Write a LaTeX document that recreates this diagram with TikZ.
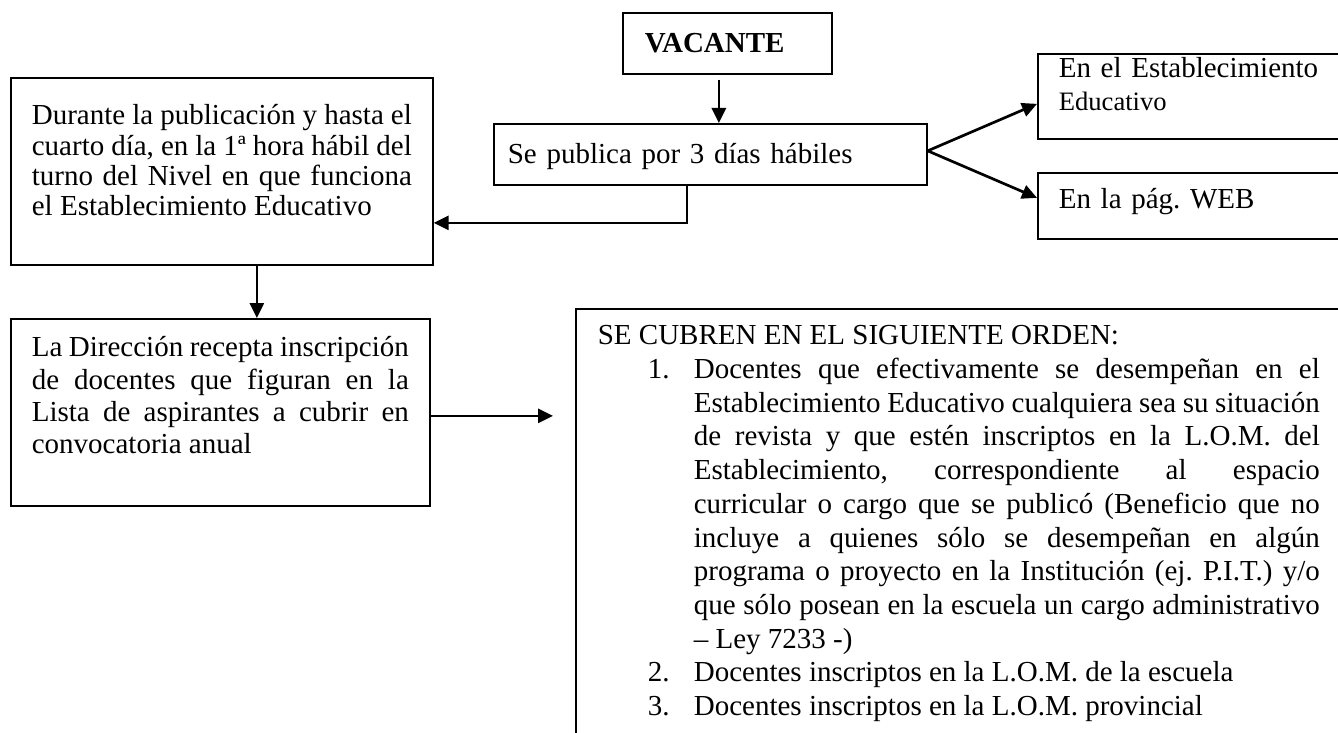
\documentclass[tikz,border=0pt]{standalone}
\usepackage{fontspec}
\setmainfont{Liberation Serif}
\usepackage{tikz}
\usetikzlibrary{arrows.meta}
\frenchspacing

\begin{document}
\begin{tikzpicture}[x=0.5pt,y=-0.5pt]
  \tikzstyle{caja}=[draw=black, line width=0.85pt, anchor=north west, inner ysep=0pt,
                    font=\fontsize{14.5pt}{16.5pt}\selectfont]
  \tikzstyle{flecha}=[line width=1.35pt, -{Triangle[length=7.5pt,width=7pt]}]
  \useasboundingbox (0,0) rectangle (1338,733);
  % cajas
  \node[caja, inner xsep=11pt, text width=82.5pt, text height=20pt, text depth=10.5pt, align=left]
    (vac) at (622,12) {\textbf{VACANTE}};
  \node[caja, inner xsep=7pt, text width=202.5pt, text height=20pt, text depth=10.5pt, align=left]
    (sepub) at (493,123) {Se publica por 3 días hábiles};
  \node[caja, inner xsep=10.5pt, text width=133pt, text height=12pt, text depth=30.5pt, align=left]
    (estab) at (1037,53) {En el Establecimiento\\{\fontsize{13.3pt}{16.5pt}\selectfont Educativo}};
  \node[caja, inner xsep=10.5pt, text width=133pt, text height=18pt, text depth=15pt, align=left]
    (web) at (1037,172) {En la pág. WEB};
  \node[caja, inner xsep=10.5pt, text width=190pt, text height=23.5pt, text depth=70pt, align=justify,
        font=\fontsize{14.5pt}{15.15pt}\selectfont]
    (durante) at (10,77) {Durante la publicación y hasta el\linebreak
      cuarto día, en la 1ª hora hábil del\linebreak
      turno del Nivel en que funciona\linebreak
      el Establecimiento Educativo};
  \node[caja, inner xsep=10.5pt, text width=188.5pt, text height=19pt, text depth=74.5pt, align=justify,
        font=\fontsize{14.5pt}{16.15pt}\selectfont]
    (direccion) at (10,318) {La Dirección recepta inscripción\linebreak
      de docentes que figuran en la\linebreak
      Lista de aspirantes a cubrir en\linebreak
      convocatoria anual};
  \node[caja, inner xsep=11pt, text width=361pt, text height=18pt, text depth=200.5pt, align=justify,
        font=\fontsize{14.5pt}{16.85pt}\selectfont]
    (orden) at (575,308) {SE CUBREN EN EL SIGUIENTE ORDEN:\par
      \leftskip=48pt
      \noindent\llap{\makebox[23pt][l]{1.}}Docentes que efectivamente se desempeñan en el\linebreak
      Establecimiento Educativo cualquiera sea su situación\linebreak
      de revista y que estén inscriptos en la L.O.M. del\linebreak
      Establecimiento, correspondiente al espacio\linebreak
      curricular o cargo que se publicó (Beneficio que no\linebreak
      incluye a quienes sólo se desempeñan en algún\linebreak
      programa o proyecto en la Institución (ej. P.I.T.) y/o\linebreak
      que sólo posean en la escuela un cargo administrativo\linebreak
      – Ley 7233 -)\par
      \noindent\llap{\makebox[23pt][l]{2.}}Docentes inscriptos en la L.O.M. de la escuela\par
      \noindent\llap{\makebox[23pt][l]{3.}}Docentes inscriptos en la L.O.M. provincial\par};
  % flechas
  \draw[flecha] ([xshift=-4.25pt,yshift=-2.5pt]vac.south) -- ([xshift=-4.25pt]vac.south |- sepub.north);
  \draw[flecha] ([yshift=1.75pt]sepub.east) -- ([yshift=-3.75pt]estab.west);
  \draw[flecha] ([yshift=1.75pt]sepub.east) -- ([yshift=4pt]web.west);
  \draw[flecha] ([xshift=-11.75pt]sepub.south) |- ([yshift=-25.75pt]durante.east);
  \draw[flecha] ([xshift=17.5pt]durante.south) -- ([xshift=17.5pt]durante.south |- direccion.north);
  \coordinate (fin) at ([xshift=-11pt]orden.west |- direccion.east);
  \draw[flecha] ([yshift=-1.75pt]direccion.east) -- ([yshift=-1.75pt]fin);
\end{tikzpicture}
\end{document}
